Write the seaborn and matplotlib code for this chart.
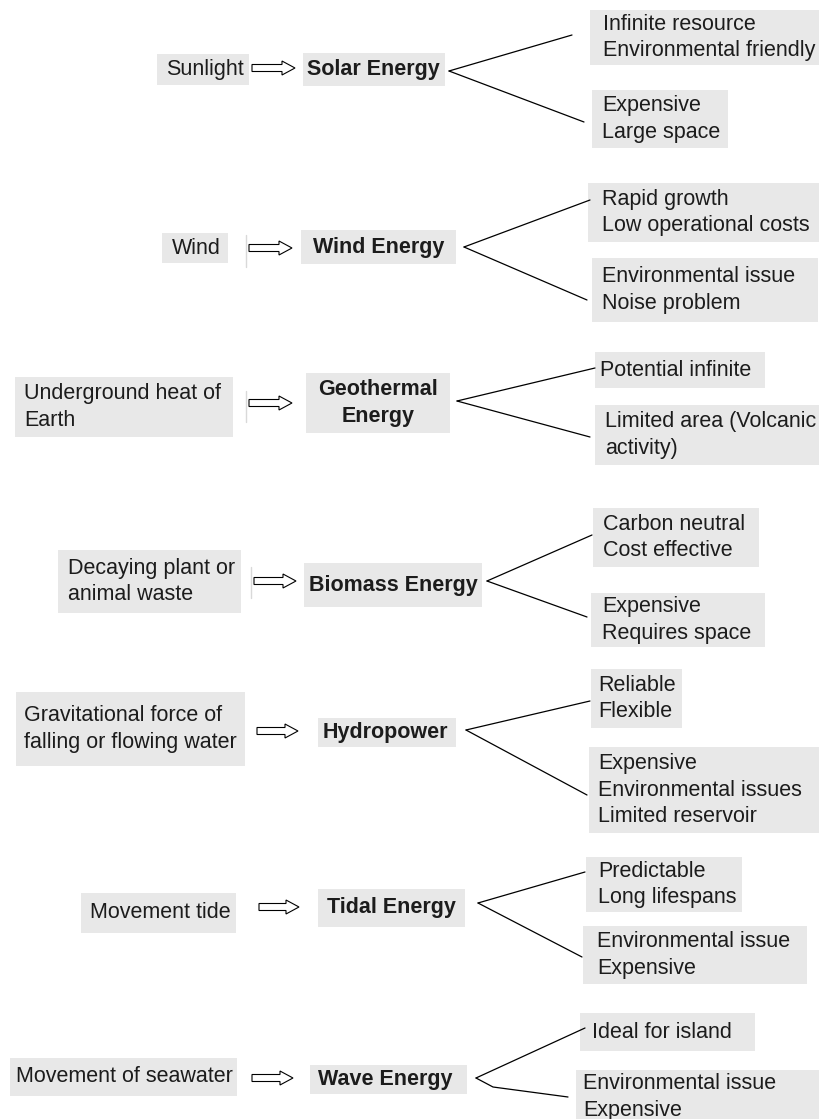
import numpy as np
import pandas as pd
import matplotlib
matplotlib.use("Agg")
import matplotlib.pyplot as plt
import seaborn as sns
from matplotlib.patches import Rectangle, FancyArrow

# Diagram content
sources = ["Sunlight", "Wind", "Underground heat of\nEarth", "Decaying plant or\nanimal waste",
           "Gravitational force of\nfalling or flowing water", "Movement tide", "Movement of seawater"]
energies = ["Solar Energy", "Wind Energy", "Geothermal\nEnergy", "Biomass Energy",
            "Hydropower", "Tidal Energy", "Wave Energy"]
pros = ["Infinite resource\nEnvironmental friendly", "Rapid growth\nLow operational costs",
        "Potential infinite", "Carbon neutral\nCost effective", "Reliable\nFlexible",
        "Predictable\nLong lifespans", "Ideal for island"]
cons = ["Expensive\nLarge space", "Environmental issue\nNoise problem",
        "Limited area (Volcanic\nactivity)", "Expensive\nRequires space",
        "Expensive\nEnvironmental issues\nLimited reservoir",
        "Environmental issue\nExpensive", "Environmental issue\nExpensive"]

# Layout in pixels: (x0, y0, x1, y1, text_x)
src_box = [(157, 54, 249, 85, 166), (162, 233, 228, 263, 172), (15, 377, 233, 437, 24),
           (58, 550, 241, 613, 68), (16, 692, 245, 766, 24), (81, 893, 236, 933, 90),
           (10, 1058, 237, 1096, 16)]
eng_box = [(303, 53, 445, 86, 307), (301, 230, 456, 264, 313), (306, 373, 450, 433, None),
           (304, 563, 482, 607, 309), (318, 718, 456, 747, 323), (318, 889, 465, 927, 327),
           (310, 1065, 467, 1094, 318)]
pro_box = [(590, 10, 830, 65, 603), (588, 183, 830, 242, 602), (595, 352, 765, 388, 600),
           (593, 508, 759, 567, 603), (591, 669, 682, 728, 598), (586, 857, 742, 912, 598),
           (580, 1013, 755, 1051, 592)]
con_box = [(592, 90, 728, 148, 602), (592, 258, 818, 322, 602), (595, 405, 830, 465, 605),
           (591, 593, 765, 647, 602), (589, 747, 830, 833, 598), (583, 926, 807, 984, 597),
           (576, 1070, 830, 1124, 583)]
arrows = [(252, 295, 68), (249, 292, 248), (249, 292, 403), (254, 296, 581),
          (257, 298, 731), (259, 299, 907), (252, 293, 1078)]
apex = [(449, 71), (464, 247), (457, 401), (487, 581), (466, 730), (478, 903), (476, 1078)]
pro_end = [[(572, 35)], [(590, 200)], [(595, 368)], [(592, 535)], [(590, 701)], [(585, 872)], [(585, 1028)]]
con_end = [[(584, 122)], [(587, 300)], [(590, 437)], [(587, 617)], [(587, 795)], [(582, 957)],
           [(493, 1087), (568, 1097)]]
separators = [(246, 235, 267), (246, 391, 422), (251, 567, 598)]

sns.set_theme(style="white")
plt.rcParams['font.family'] = ['Liberation Sans', 'DejaVu Sans']

fig = plt.figure(figsize=(8.2, 11.19), dpi=100)
ax = fig.add_axes([0, 0, 1, 1])

BOX = "#e8e8e8"
TXT = "#1c1c1c"
FS = 15.5
LS = 1.33


def node(box, label, bold=False):
    x0, y0, x1, y1, tx = box
    ax.add_patch(Rectangle((x0, y0), x1 - x0, y1 - y0, fc=BOX, ec="none", zorder=1))
    yc = (y0 + y1) / 2
    weight = "bold" if bold else "normal"
    if tx is None:
        ax.text((x0 + x1) / 2, yc, label, ha="center", va="center", multialignment="center",
                fontsize=FS, color=TXT, fontweight=weight, linespacing=LS, zorder=3)
    else:
        ax.text(tx, yc, label, ha="left", va="center", fontsize=FS, color=TXT,
                fontweight=weight, linespacing=LS, zorder=3)


for i in range(len(energies)):
    node(src_box[i], sources[i])
    node(eng_box[i], energies[i], bold=True)
    node(pro_box[i], pros[i])
    node(con_box[i], cons[i])
    x0, x1, y = arrows[i]
    ax.add_patch(FancyArrow(x0, y, x1 - x0, 0, width=7, head_width=14, head_length=13,
                            length_includes_head=True, fc="white", ec="black", lw=0.8, zorder=3))

# branch lines
rows = []
seg = 0
for i in range(len(energies)):
    for ends in (pro_end[i], con_end[i]):
        pts = [apex[i]] + ends
        for k, (px, py) in enumerate(pts):
            rows.append({"x": px, "y": py, "seg": seg, "order": k})
        seg += 1
lines = pd.DataFrame(rows)
sns.lineplot(data=lines, x="x", y="y", units="seg", estimator=None, sort=False,
             color="black", lw=0.9, ax=ax, legend=False)

for sx, sy0, sy1 in separators:
    ax.plot([sx, sx], [sy0, sy1], color="#d9d9d9", lw=1)

ax.set_xlim(0, 820)
ax.set_ylim(1119, 0)
ax.axis("off")
fig.savefig("out.png", dpi=100)
